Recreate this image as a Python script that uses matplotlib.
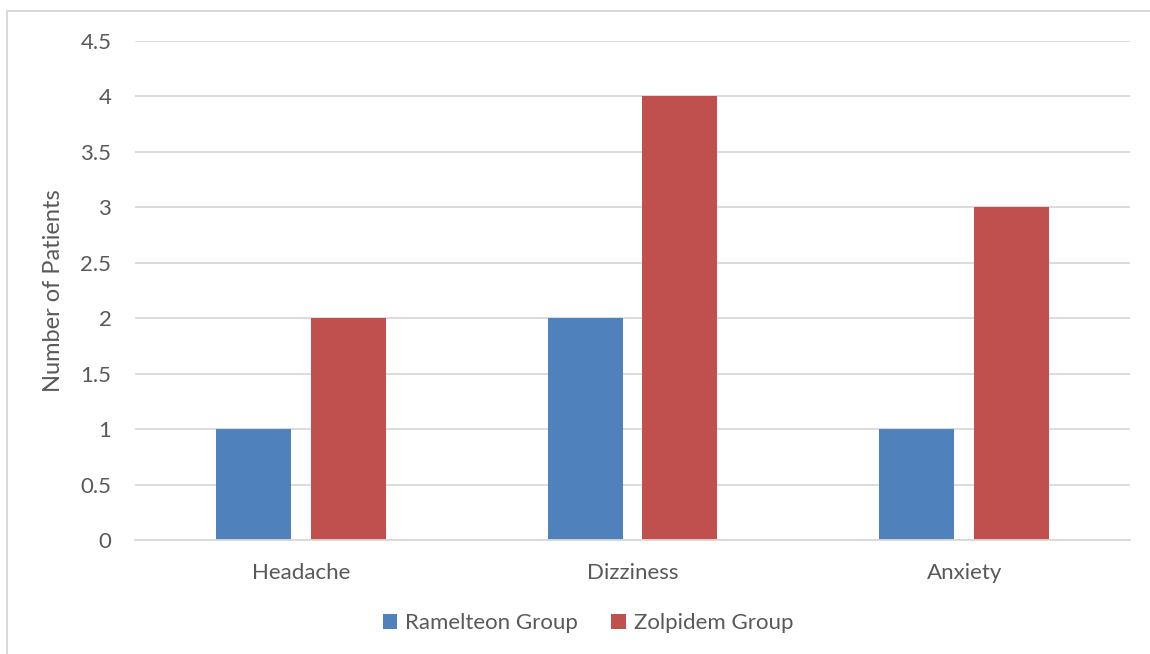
import numpy as np
import matplotlib
matplotlib.use("Agg")
import matplotlib.pyplot as plt
from matplotlib.lines import Line2D

categories = ["Headache", "Dizziness", "Anxiety"]
ramelteon = [1, 2, 1]
zolpidem = [2, 4, 3]
yticks = [0, 0.5, 1, 1.5, 2, 2.5, 3, 3.5, 4, 4.5]
ytick_labels = ["0", "0.5", "1", "1.5", "2", "2.5", "3", "3.5", "4", "4.5"]

plt.rcParams["font.family"] = ["Lato", "DejaVu Sans"]
txt = "#595959"

fig = plt.figure(figsize=(11.5, 6.54), dpi=100)
ax = fig.add_axes([135 / 1150, 114 / 654, 995 / 1150, 499 / 654])

x = np.arange(len(categories))
w = 0.226
ax.bar(x - 0.143, ramelteon, w, color="#4F81BD", label="Ramelteon Group", zorder=3)
ax.bar(x + 0.143, zolpidem, w, color="#C0504D", label="Zolpidem Group", zorder=3)

ax.set_xlim(-0.5, 2.5)
ax.set_ylim(0, 4.5)
ax.set_yticks(yticks)
ax.set_yticklabels(ytick_labels)
ax.set_xticks(x)
ax.set_xticklabels(categories)
ax.tick_params(axis="both", length=0, labelsize=16, colors=txt)
ax.tick_params(axis="y", pad=17)
ax.tick_params(axis="x", pad=16.5)
ax.grid(axis="y", color="#D9D9D9", linewidth=1.3, zorder=0)
for s in ["top", "right", "left"]:
    ax.spines[s].set_visible(False)
ax.spines["bottom"].set_color("#D9D9D9")
ax.spines["bottom"].set_linewidth(1.3)
ax.spines["bottom"].set_zorder(4)

ax.set_ylabel("Number of Patients", fontsize=17, color=txt, labelpad=12)

fig.legend(loc="center", bbox_to_anchor=(588 / 1150, 1 - 623 / 654), ncol=2,
           frameon=False, fontsize=16, labelcolor=txt, handlelength=0.65,
           handleheight=0.65, columnspacing=1.5, handletextpad=0.35)

# outer chart border
fig.add_artist(Line2D([7 / 1150, 1], [1 - 11 / 654, 1 - 11 / 654], color="#D9D9D9", lw=1.5))
fig.add_artist(Line2D([7 / 1150, 7 / 1150], [0, 1 - 11 / 654], color="#D9D9D9", lw=1.5))

fig.savefig("out.png", dpi=100, facecolor="white")
